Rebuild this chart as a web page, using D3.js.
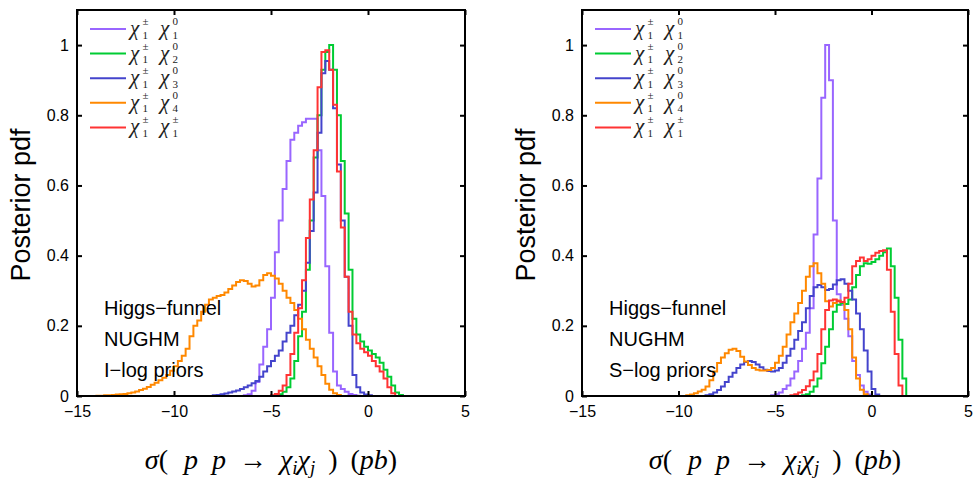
<!DOCTYPE html>
<html>
<head>
<meta charset="utf-8">
<script src="https://cdn.jsdelivr.net/npm/d3@7"></script>
<style>
  body { margin: 0; background: #fff; }
  svg { display: block; }
  .tick text { font-family: "Liberation Sans", Arial, sans-serif; font-size: 16px; fill: #000; }
</style>
</head>
<body>
<div id="chart"></div>
<script>

// --------------------------------------
//  Data (posterior pdf histograms, bin width 0.2 in log10 sigma)
// --------------------------------------

const binWidth = 0.2;
const seriesKeys = ["c11", "c12", "c13", "c14", "cpm"];
const xTicks = [-15, -10, -5, 0, 5];
const yTicks = [0, 0.2, 0.4, 0.6, 0.8, 1];
const noteLines = ["Higgs\u2212funnel", "NUGHM"];
const priorNotes = ["I\u2212log priors", "S\u2212log priors"];

// I-log priors: first bin left edge of each series
const ilogStarts = [-6.4, -4.8, -8.0, -14.0, -5.0];

const ilogC11 = [0.002, 0.005, 0.015, 0.04, 0.09, 0.14, 0.19, 0.28, 0.41, 0.5, 0.59, 0.67, 0.73, 0.75,
  0.77, 0.78, 0.79, 0.79, 0.79, 0.70, 0.57, 0.37, 0.18, 0.07, 0.03, 0.02, 0.012, 0.006, 0.003, 0.001];

const ilogC12 = [0.002, 0.005, 0.012, 0.025, 0.05, 0.1, 0.17, 0.24, 0.36, 0.5, 0.68, 0.8, 0.93, 0.98,
  1.0, 0.93, 0.8, 0.67, 0.52, 0.36, 0.22, 0.175, 0.155, 0.14, 0.13, 0.12, 0.11, 0.095, 0.075, 0.055,
  0.03, 0.01, 0.003];

const ilogC13 = [0.002, 0.003, 0.005, 0.007, 0.01, 0.013, 0.016, 0.02, 0.025, 0.03, 0.036, 0.043, 0.055,
  0.07, 0.085, 0.1, 0.115, 0.13, 0.155, 0.18, 0.2, 0.23, 0.26, 0.3, 0.38, 0.47, 0.58, 0.75, 0.92, 0.955,
  0.93, 0.82, 0.66, 0.5, 0.34, 0.2, 0.06, 0.025, 0.01, 0.004, 0.002];

const ilogC14 = [0.001, 0.001, 0.002, 0.002, 0.003, 0.004, 0.005, 0.006, 0.008, 0.01, 0.013, 0.017, 0.021,
  0.026, 0.032, 0.038, 0.045, 0.052, 0.06, 0.072, 0.085, 0.1, 0.115, 0.135, 0.17, 0.2, 0.215, 0.24, 0.26,
  0.275, 0.28, 0.285, 0.288, 0.295, 0.305, 0.315, 0.325, 0.33, 0.328, 0.32, 0.312, 0.315, 0.33, 0.345,
  0.35, 0.343, 0.335, 0.32, 0.3, 0.28, 0.265, 0.245, 0.22, 0.19, 0.16, 0.135, 0.11, 0.085, 0.06, 0.035,
  0.018, 0.008, 0.003];

const ilogCpm = [0.002, 0.006, 0.015, 0.03, 0.06, 0.12, 0.18, 0.25, 0.33, 0.45, 0.56, 0.7, 0.88, 0.98,
  0.985, 0.93, 0.83, 0.64, 0.48, 0.34, 0.24, 0.175, 0.15, 0.135, 0.125, 0.115, 0.1, 0.085, 0.07, 0.05,
  0.025, 0.008];

// S-log priors
const slogStarts = [-5.2, -3.6, -8.6, -9.6, -4.2];

const slogC11 = [0.002, 0.005, 0.01, 0.02, 0.03, 0.05, 0.07, 0.1, 0.135, 0.18, 0.25, 0.46, 0.62, 0.85,
  1.0, 0.9, 0.5, 0.29, 0.26, 0.22, 0.17, 0.1, 0.06, 0.03, 0.012, 0.004];

const slogC12 = [0.002, 0.005, 0.012, 0.027, 0.05, 0.093, 0.14, 0.19, 0.24, 0.26, 0.265, 0.262, 0.275,
  0.31, 0.345, 0.37, 0.378, 0.377, 0.382, 0.39, 0.4, 0.41, 0.42, 0.37, 0.28, 0.16, 0.05];

const slogC13 = [0.002, 0.005, 0.01, 0.017, 0.027, 0.04, 0.055, 0.066, 0.08, 0.09, 0.097, 0.1, 0.097,
  0.09, 0.082, 0.075, 0.071, 0.07, 0.073, 0.08, 0.095, 0.115, 0.135, 0.16, 0.185, 0.21, 0.25, 0.285,
  0.31, 0.316, 0.31, 0.302, 0.305, 0.318, 0.33, 0.333, 0.32, 0.3, 0.275, 0.235, 0.19, 0.13, 0.07, 0.02,
  0.004];

const slogC14 = [0.002, 0.004, 0.008, 0.013, 0.018, 0.027, 0.045, 0.07, 0.094, 0.11, 0.122, 0.132, 0.135,
  0.128, 0.112, 0.098, 0.088, 0.08, 0.075, 0.073, 0.073, 0.074, 0.08, 0.095, 0.115, 0.14, 0.175, 0.21,
  0.235, 0.265, 0.3, 0.34, 0.37, 0.378, 0.35, 0.32, 0.27, 0.255, 0.265, 0.272, 0.268, 0.245, 0.19, 0.11,
  0.05, 0.018, 0.005];

const slogCpm = [0.002, 0.005, 0.01, 0.017, 0.028, 0.045, 0.07, 0.12, 0.19, 0.245, 0.272, 0.275, 0.27,
  0.268, 0.28, 0.32, 0.37, 0.385, 0.395, 0.385, 0.39, 0.4, 0.408, 0.413, 0.415, 0.36, 0.24, 0.12, 0.03];

// --------------------------------------
//  Margin and canvas
// --------------------------------------

const width = 976;
const height = 481;
const colors = ["#9966ff", "#00cc33", "#4444cc", "#ff8800", "#ff3333"];
const legendSubs = [["1", "1"], ["1", "2"], ["1", "3"], ["1", "4"], ["1", "1"]];
const legendSups = [["\u00b1", "0"], ["\u00b1", "0"], ["\u00b1", "0"], ["\u00b1", "0"], ["\u00b1", "\u00b1"]];

const panels = [
  { left: 77, right: 465, starts: ilogStarts, values: [ilogC11, ilogC12, ilogC13, ilogC14, ilogCpm], note: priorNotes[0] },
  { left: 582, right: 968, starts: slogStarts, values: [slogC11, slogC12, slogC13, slogC14, slogCpm], note: priorNotes[1] }
];
const plotTop = 10, plotBottom = 396;
const mathFont = "'Liberation Serif', 'DejaVu Serif', serif";

const svg = d3.select("#chart")
  .append("svg")
    .attr("width", width)
    .attr("height", height);

svg.append("defs").selectAll("clipPath")
  .data(panels)
  .join("clipPath")
    .attr("id", (d, i) => `clip${i}`)
  .append("rect")
    .attr("x", d => d.left)
    .attr("y", plotTop)
    .attr("width", d => d.right - d.left)
    .attr("height", plotBottom - plotTop);

panels.forEach((p, pi) => {

  const x = d3.scaleLinear().domain([-15, 5]).range([p.left, p.right]);
  const y = d3.scaleLinear().domain([0, 1.1]).range([plotBottom, plotTop]);

  const g = svg.append("g");

  // Histograms drawn as stairs
  const lines = g.append("g").attr("clip-path", `url(#clip${pi})`);
  seriesKeys.forEach((k, si) => {
    const start = p.starts[si];
    const vals = p.values[si];
    let path = d3.path();
    path.moveTo(x(-15), y(0));
    path.lineTo(x(start), y(0));
    vals.forEach((v, i) => {
      path.lineTo(x(start + i * binWidth), y(v));
      path.lineTo(x(start + (i + 1) * binWidth), y(v));
    });
    path.lineTo(x(start + vals.length * binWidth), y(0));
    path.lineTo(x(5), y(0));
    lines.append("path")
      .attr("d", path.toString())
      .attr("fill", "none")
      .attr("stroke", colors[si])
      .attr("stroke-width", 2);
  });

  // Axes (MATLAB box, ticks inside on all sides)
  g.append("g")
    .attr("transform", `translate(0, ${plotBottom})`)
    .call(d3.axisBottom(x).tickValues(xTicks).tickSizeInner(-5).tickSizeOuter(0).tickPadding(10))
    .call(a => a.select(".domain").remove());
  g.append("g")
    .attr("transform", `translate(0, ${plotTop})`)
    .call(d3.axisTop(x).tickValues(xTicks).tickSizeInner(-5).tickSizeOuter(0).tickFormat(""))
    .call(a => a.select(".domain").remove());
  g.append("g")
    .attr("transform", `translate(${p.left}, 0)`)
    .call(d3.axisLeft(y).tickValues(yTicks).tickSizeInner(-5).tickSizeOuter(0).tickPadding(8).tickFormat(d3.format("")))
    .call(a => a.select(".domain").remove());
  g.append("g")
    .attr("transform", `translate(${p.right}, 0)`)
    .call(d3.axisRight(y).tickValues(yTicks).tickSizeInner(-5).tickSizeOuter(0).tickFormat(""))
    .call(a => a.select(".domain").remove());
  g.selectAll(".tick line").attr("stroke", "#000").attr("stroke-width", 2);

  g.append("rect")
    .attr("x", p.left)
    .attr("y", plotTop)
    .attr("width", p.right - p.left)
    .attr("height", plotBottom - plotTop)
    .attr("fill", "none")
    .attr("stroke", "#000")
    .attr("stroke-width", 2);

  // Axis titles
  g.append("text")
    .attr("transform", `translate(${p.left - 47}, ${(plotTop + plotBottom) / 2 + 2}) rotate(-90)`)
    .attr("text-anchor", "middle")
    .style("font-family", "'Liberation Sans', Arial, sans-serif")
    .style("font-size", "27px")
    .text("Posterior pdf");

  // x label: sigma( p p -> chi_i chi_j ) (pb)
  const xl = g.append("text")
    .attr("x", 0)
    .attr("y", 469)
    .style("font-family", mathFont)
    .style("font-size", "28px");
  const parts = [
    ["\u03c3", "italic", 0, 0], ["(", "normal", 0, 0], ["p", "italic", 0, 16], ["p", "italic", 0, 14],
    ["\u2192", "normal", 0, 13], ["\u03c7", "italic", 0, 13], ["i", "italic", 1, 0],
    ["\u03c7", "italic", -1, 0], ["j", "italic", 1, 0], [")", "normal", -1, 13],
    ["(", "normal", 0, 13], ["pb", "italic", 0, 0], [")", "normal", 0, 0]
  ];
  parts.forEach(([t, st, shift, gap]) => {
    xl.append("tspan")
      .attr("dx", gap)
      .attr("dy", shift === 1 ? 5 : shift === -1 ? -5 : 0)
      .style("font-style", st)
      .style("font-size", shift === 1 ? "19px" : "28px")
      .text(t);
  });
  const xlw = xl.node().getBBox().width;
  xl.attr("x", (p.left + p.right) / 2 - xlw / 2);

  // Legend: one text element per row, scripts placed with tspans
  const leg = g.append("g");
  seriesKeys.forEach((k, si) => {
    const ly = 29 + si * 24.6;
    leg.append("line")
      .attr("x1", p.left + 13).attr("x2", p.left + 49)
      .attr("y1", ly).attr("y2", ly)
      .attr("stroke", colors[si]).attr("stroke-width", 2);
    const t = leg.append("text")
      .style("font-family", mathFont)
      .attr("fill", "#222");
    [0, 1].forEach(j => {
      const cx = p.left + 53 + j * 30;
      t.append("tspan")
        .attr("x", cx).attr("y", ly + 6)
        .style("font-style", "italic").style("font-size", "21px")
        .text("\u03c7");
      t.append("tspan")
        .attr("x", cx + 12.5).attr("y", ly - 4)
        .style("font-size", "11px")
        .text(legendSups[si][j]);
      t.append("tspan")
        .attr("x", cx + 12.5).attr("y", ly + 9.5)
        .style("font-size", "11px")
        .text(legendSubs[si][j]);
    });
  });

  // Notes
  const notes = noteLines.concat([p.note]);
  g.append("g").selectAll("text")
    .data(notes)
    .join("text")
      .attr("x", p.left + 27)
      .attr("y", (d, i) => 315 + i * 31)
      .style("font-family", "'Liberation Sans', Arial, sans-serif")
      .style("font-size", "20px")
      .text(d => d);
});

</script>
</body>
</html>
